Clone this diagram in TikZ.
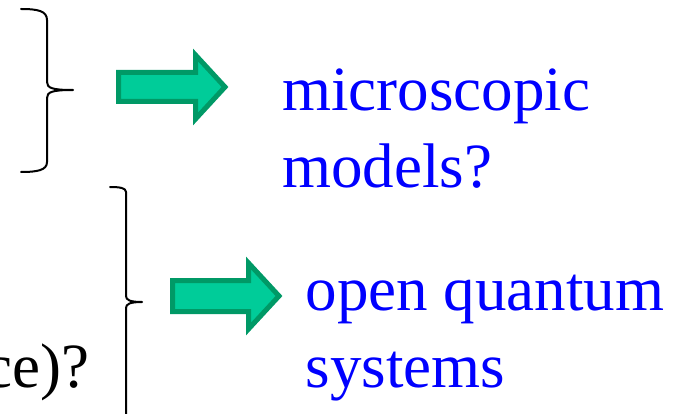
\documentclass[tikz,border=0pt]{standalone}
\usepackage{fontspec}
\setmainfont{Liberation Serif}
\usepackage{xcolor}
\usetikzlibrary{positioning}

\definecolor{arrowfill}{HTML}{00CC99}
\definecolor{arrowline}{HTML}{009966}
\definecolor{textblue}{HTML}{0000FF}

\begin{document}
\begin{tikzpicture}[
    x=1pt, y=-1pt,
    big/.style={inner sep=0pt, font=\fontsize{63}{76}\selectfont},
    answer/.style={big, text=textblue, anchor=base west},
    bracket/.style={line width=2pt, line cap=round, line join=round},
    fatarrow/.style={fill=arrowfill, draw=arrowline, line width=5pt, line join=miter}
]
\useasboundingbox (0,0) rectangle (687,414);
\clip (0,0) rectangle (687,414);

% first brace and arrow
\draw [bracket] (21,9) .. controls (38,9) and (47,11) .. (47,20)
    -- (47,82) .. controls (47,88) and (52,90) .. (73,90)
    .. controls (52,90) and (47,92) .. (47,98)
    -- (47,162) .. controls (47,170) and (38,172) .. (21,172);
\draw [fatarrow] (118.5,72.5) -- (195.5,72.5) -- (195.5,55) -- (225,87)
    -- (195.5,119) -- (195.5,101.5) -- (118.5,101.5) -- cycle;

\node [answer] (micro) at (282,111) {microscopic};
\node [answer] (models) at (282,187) {models?};

% second brace and arrow
\draw [bracket] (110,187) .. controls (120,187) and (126,188) .. (126,192)
    -- (126,296) .. controls (126,300) and (130,302) .. (142,302)
    .. controls (130,302) and (126,304) .. (126,308)
    -- (126,420);
\draw [fatarrow] (172.5,280.5) -- (248.5,280.5) -- (248.5,263) -- (279,296)
    -- (248.5,329) -- (248.5,311.5) -- (172.5,311.5) -- cycle;

\node [answer] (open) at (305.5,310) {open quantum};
\node [answer] (systems) at (305.5,387) {systems};

\node [big, anchor=base east] (question) at (90,387) {ce)?};
\end{tikzpicture}
\end{document}
